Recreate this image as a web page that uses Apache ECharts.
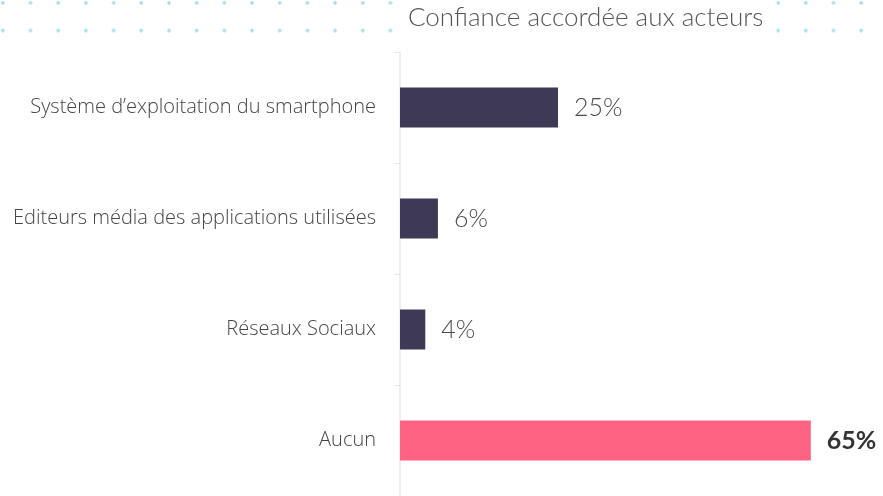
<!DOCTYPE html>
<html>
<head>
<meta charset="utf-8">
<script src="https://cdn.jsdelivr.net/npm/echarts@6/dist/echarts.min.js"></script>
<style>
  html, body { margin: 0; padding: 0; background: #fff; }
  #wrap { position: relative; width: 883px; height: 496px; }
  /* decorative dotted band at the top */
  #dots {
    position: absolute; left: 0; top: 0; width: 883px; height: 34px;
    background-image: radial-gradient(circle, #a6dbe8 1.4px, rgba(255,255,255,0) 2px);
    background-size: 27.7px 27.7px;
    background-position: -11px -11px;
  }
  #chart { position: absolute; left: 0; top: 0; width: 883px; height: 496px; }
</style>
</head>
<body>
<div id="wrap">
  <div id="dots"></div>
  <div id="chart"></div>
</div>
<script>
  const titleText = 'Confiance accordée aux acteurs'
  const categories = [
    'Système d\u2019exploitation du smartphone',
    'Editeurs média des applications utilisées',
    'Réseaux Sociaux',
    'Aucun'
  ]
  const values = [25, 6, 4, 65]
  const highlight = [false, false, false, true]

  const chart = echarts.init(document.getElementById('chart'), null, { renderer: 'canvas' })

  const option = {
    backgroundColor: 'transparent',
    title: {
      text: titleText,
      left: 395,
      top: 0,
      padding: [5, 13, 6, 13],
      backgroundColor: '#fff',
      textStyle: {
        fontFamily: 'Lato',
        fontWeight: 300,
        fontSize: 26,
        color: '#555'
      }
    },
    grid: {
      left: 400,
      right: 9,
      top: 52,
      bottom: 0,
      containLabel: false
    },
    xAxis: {
      type: 'value',
      min: 0,
      max: 75,
      show: false
    },
    yAxis: {
      type: 'category',
      inverse: true,
      data: categories,
      axisLine: { show: true, lineStyle: { color: '#eeeeee', width: 2 } },
      axisTick: { show: true, length: 5, lineStyle: { color: '#e6e6e6' } },
      axisLabel: {
        margin: 24,
        fontFamily: 'Open Sans',
        fontWeight: 300,
        fontSize: 20,
        color: '#444'
      }
    },
    series: [{
      type: 'bar',
      barWidth: 40,
      data: values.map((v, i) => ({
        value: v,
        itemStyle: { color: highlight[i] ? '#ff6383' : '#3e3a55' },
        label: {
          show: true,
          position: 'right',
          distance: 16,
          formatter: '{c}%',
          fontFamily: 'Lato',
          fontSize: 25,
          fontWeight: highlight[i] ? 'bold' : 300,
          color: highlight[i] ? '#333' : '#4a4a4a'
        }
      })),
      animation: false
    }]
  }

  chart.setOption(option)
</script>
</body>
</html>
